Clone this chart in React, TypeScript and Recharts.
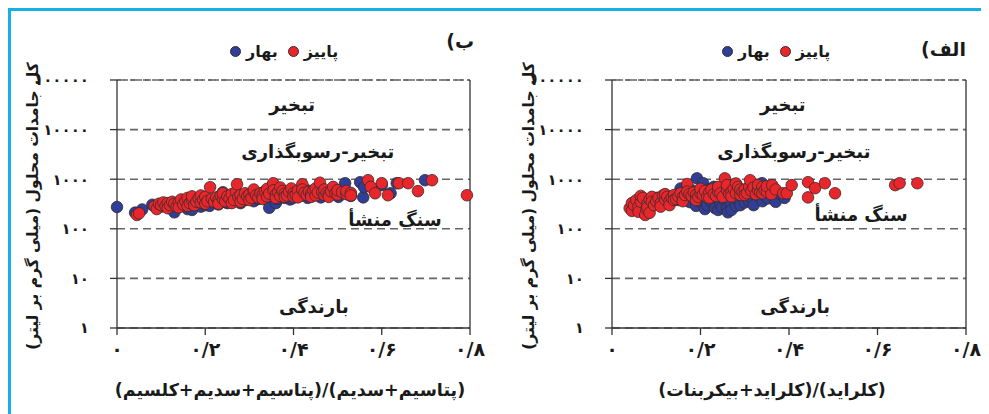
import React from "react";
import {
  ScatterChart,
  Scatter,
  XAxis,
  YAxis,
  CartesianGrid,
  ReferenceLine,
  ReferenceDot,
} from "recharts";

const FONT = '"DejaVu Sans", sans-serif';
const BLUE = "#2f3e97";
const RED = "#e9262b";
const INK = "#1a1a1a";
const GRID = "#666";
const FRAME = "#1aaee6";

const xTicks = [0, 0.2, 0.4, 0.6, 0.8];
const yTicks = [1, 10, 100, 1000, 10000, 100000];

const seriesNames = ["بهار", "پاییز"];
const yTitle = "کل جامدات محلول (میلی گرم بر لیتر)";
const zoneNames = ["تبخیر", "تبخیر-رسوبگذاری", "سنگ منشأ", "بارندگی"];

type Pt = [number, number];

// panel ب : (Na+K)/(Na+K+Ca)
const cationSpring: Pt[] = [
  [0.0, 275], [0.041, 212], [0.057, 245], [0.08, 305], [0.1, 280], [0.12, 262],
  [0.13, 215], [0.15, 290], [0.16, 250], [0.17, 240], [0.18, 330], [0.19, 280],
  [0.2, 300], [0.21, 290], [0.22, 360], [0.23, 310], [0.24, 545], [0.25, 330],
  [0.26, 360], [0.27, 420], [0.28, 330], [0.29, 380], [0.3, 470], [0.31, 360],
  [0.32, 400], [0.33, 520], [0.34, 380], [0.345, 265], [0.35, 450], [0.36, 330],
  [0.365, 400], [0.37, 500], [0.38, 420], [0.39, 560], [0.392, 390], [0.397, 410],
  [0.41, 520], [0.42, 470], [0.43, 600], [0.432, 420], [0.44, 480], [0.45, 530],
  [0.46, 470], [0.462, 430], [0.47, 550], [0.48, 480], [0.49, 520], [0.5, 470],
  [0.502, 440], [0.51, 560], [0.517, 830], [0.525, 490], [0.53, 460], [0.551, 870],
  [0.558, 430], [0.56, 690], [0.6, 760], [0.62, 520], [0.634, 830], [0.698, 955],
];

const cationAutumn: Pt[] = [
  [0.045, 190], [0.05, 205], [0.085, 285], [0.09, 250], [0.095, 320], [0.1, 300],
  [0.105, 340], [0.11, 290], [0.115, 330], [0.115, 260], [0.12, 300], [0.125, 350],
  [0.13, 320], [0.135, 280], [0.14, 340], [0.14, 270], [0.145, 390], [0.15, 310],
  [0.155, 360], [0.16, 420], [0.16, 290], [0.165, 330], [0.17, 380], [0.17, 450],
  [0.175, 300], [0.18, 350], [0.185, 410], [0.19, 340], [0.19, 470], [0.195, 380],
  [0.2, 440], [0.2, 320], [0.205, 360], [0.211, 690], [0.215, 400], [0.22, 350],
  [0.225, 430], [0.23, 380], [0.23, 320], [0.235, 470], [0.24, 400], [0.24, 520],
  [0.245, 360], [0.25, 450], [0.255, 410], [0.26, 500], [0.26, 330], [0.265, 380],
  [0.27, 560], [0.272, 790], [0.275, 440], [0.28, 480], [0.28, 350], [0.285, 400],
  [0.29, 520], [0.295, 450], [0.3, 490], [0.3, 380], [0.305, 420], [0.31, 560],
  [0.31, 620], [0.315, 470], [0.32, 430], [0.325, 520], [0.33, 480], [0.33, 400],
  [0.335, 570], [0.34, 450], [0.34, 640], [0.345, 510], [0.354, 830], [0.355, 600],
  [0.36, 490], [0.36, 420], [0.365, 540], [0.37, 460], [0.37, 680], [0.375, 580],
  [0.38, 510], [0.38, 440], [0.385, 470], [0.39, 560], [0.395, 650], [0.4, 520],
  [0.4, 450], [0.405, 480], [0.41, 590], [0.41, 430], [0.42, 790], [0.42, 620],
  [0.425, 530], [0.43, 480], [0.435, 560], [0.44, 510], [0.44, 440], [0.445, 600],
  [0.45, 470], [0.45, 650], [0.455, 540], [0.46, 850], [0.465, 560], [0.47, 480],
  [0.47, 620], [0.475, 530], [0.48, 500], [0.48, 440], [0.485, 570], [0.49, 700],
  [0.495, 520], [0.5, 490], [0.5, 600], [0.51, 550], [0.52, 500], [0.52, 580],
  [0.53, 530], [0.53, 470], [0.569, 955], [0.575, 700], [0.585, 520], [0.6, 830],
  [0.614, 475], [0.639, 830], [0.66, 830], [0.682, 575], [0.714, 955], [0.793, 475],
];

// panel الف : Cl/(Cl+HCO3)
const anionSpring: Pt[] = [
  [0.1, 420], [0.12, 480], [0.14, 440], [0.15, 380], [0.155, 650], [0.165, 380],
  [0.17, 700], [0.176, 345], [0.18, 600], [0.185, 460], [0.19, 290], [0.192, 1040],
  [0.2, 560], [0.2, 350], [0.206, 830], [0.21, 400], [0.21, 250], [0.215, 300],
  [0.22, 480], [0.22, 620], [0.225, 350], [0.23, 700], [0.233, 260], [0.24, 420],
  [0.24, 240], [0.245, 310], [0.249, 270], [0.25, 600], [0.255, 380], [0.26, 260],
  [0.262, 215], [0.268, 330], [0.27, 240], [0.275, 450], [0.28, 290], [0.28, 800],
  [0.285, 380], [0.29, 520], [0.29, 300], [0.3, 430], [0.3, 340], [0.31, 360],
  [0.316, 410], [0.32, 300], [0.325, 560], [0.33, 470], [0.339, 830], [0.34, 360],
  [0.345, 500], [0.352, 410], [0.355, 700], [0.36, 580], [0.37, 430], [0.37, 350],
  [0.38, 500], [0.39, 420],
];

const anionAutumn: Pt[] = [
  [0.04, 260], [0.045, 330], [0.045, 230], [0.05, 300], [0.055, 380], [0.06, 280],
  [0.06, 220], [0.065, 350], [0.065, 460], [0.07, 420], [0.075, 190], [0.078, 250],
  [0.08, 320], [0.08, 270], [0.085, 390], [0.085, 210], [0.09, 440], [0.09, 350],
  [0.095, 300], [0.1, 360], [0.105, 420], [0.11, 330], [0.11, 280], [0.115, 470],
  [0.12, 390], [0.12, 500], [0.125, 440], [0.13, 360], [0.13, 300], [0.135, 420],
  [0.14, 480], [0.14, 380], [0.145, 400], [0.15, 450], [0.155, 520], [0.16, 430],
  [0.16, 360], [0.165, 480], [0.17, 800], [0.17, 560], [0.175, 500], [0.18, 460],
  [0.185, 540], [0.19, 480], [0.19, 380], [0.195, 440], [0.2, 520], [0.2, 640],
  [0.205, 480], [0.21, 580], [0.215, 440], [0.22, 540], [0.22, 420], [0.225, 620],
  [0.23, 500], [0.235, 460], [0.24, 560], [0.24, 700], [0.245, 520], [0.25, 440],
  [0.255, 1040], [0.26, 600], [0.26, 760], [0.265, 500], [0.27, 560], [0.27, 450],
  [0.275, 640], [0.28, 520], [0.28, 820], [0.285, 700], [0.29, 480], [0.29, 620],
  [0.295, 560], [0.3, 620], [0.3, 480], [0.305, 520], [0.31, 700], [0.312, 955],
  [0.315, 580], [0.32, 680], [0.325, 500], [0.33, 600], [0.33, 760], [0.335, 540],
  [0.34, 700], [0.34, 520], [0.345, 600], [0.35, 560], [0.35, 720], [0.36, 500],
  [0.362, 760], [0.37, 620], [0.387, 520], [0.395, 520], [0.406, 760], [0.443, 430],
  [0.443, 870], [0.459, 660], [0.481, 830], [0.504, 520], [0.64, 760], [0.65, 830],
  [0.69, 830],
];

const toFa = (v: number) =>
  String(v).replace(".", "/").replace(/\d/g, (d) => "۰۱۲۳۴۵۶۷۸۹"[+d]);

const toRows = (pts: Pt[]) => pts.map(([x, y]) => ({ x, y }));

const W = 490;
const H = 406;

const dot = (fill: string) => (p: any) => (
  <circle cx={p.cx} cy={p.cy} r={5.8} fill={fill} stroke="#3b2b2b" strokeWidth={0.8} />
);

interface PanelProps {
  left: number;
  letter: string;
  letterTop: number;
  spring: Pt[];
  autumn: Pt[];
  xTitle: string;
  xTitleX: number;
  yTitleX: number;
  plotLeft: number;
  plotRight: number;
  zones: Pt[];
}

const Panel = (p: PanelProps) => {
  const margin = { top: 72, right: W - p.plotRight, left: p.plotLeft - 70, bottom: H - 320 - 50 };
  return (
    <div style={{ position: "absolute", left: p.left, top: 0, width: W, height: H }}>
      <ScatterChart width={W} height={H} margin={margin}>
        <CartesianGrid vertical={false} stroke={GRID} strokeWidth={1.6} strokeDasharray="8 5" />
        <XAxis
          type="number"
          dataKey="x"
          domain={[0, 0.8]}
          ticks={xTicks}
          tickFormatter={toFa}
          height={50}
          stroke="#333"
          strokeWidth={1.3}
          tickSize={7}
          tickMargin={8}
          tick={{ fill: INK, fontSize: 19, fontWeight: "bold", fontFamily: FONT }}
          label={() => (
            <text
              x={p.xTitleX}
              y={382}
              textAnchor="middle"
              dominantBaseline="central"
              direction="rtl"
              fill={INK}
              fontSize={17.5}
              fontWeight="bold"
              fontFamily={FONT}
            >
              {p.xTitle}
            </text>
          )}
        />
        <YAxis
          type="number"
          dataKey="y"
          scale="log"
          domain={[1, 100000]}
          ticks={yTicks}
          allowDataOverflow
          tickFormatter={toFa}
          width={70}
          stroke="#333"
          strokeWidth={1.3}
          tickSize={7}
          tickMargin={21}
          tick={{ fill: INK, fontSize: 15, fontWeight: "bold", fontFamily: FONT }}
          label={() => (
            <text
              x={p.yTitleX}
              y={198}
              transform={`rotate(-90 ${p.yTitleX} 198)`}
              textAnchor="middle"
              dominantBaseline="central"
              direction="rtl"
              fill={INK}
              fontSize={15.5}
              fontWeight="bold"
              fontFamily={FONT}
            >
              {yTitle}
            </text>
          )}
        />
        <ReferenceLine y={100000} stroke={GRID} strokeWidth={1.4} strokeDasharray="4 3" />
        <ReferenceLine x={0.8} stroke="#333" strokeWidth={1.3} />
        {p.zones.map(([zx, zy], i) => (
          <ReferenceDot
            key={i}
            x={zx}
            y={zy}
            r={0}
            fill="none"
            stroke="none"
            label={{
              value: zoneNames[i],
              position: "center",
              fill: INK,
              fontSize: 18,
              fontWeight: "bold",
              fontFamily: FONT,
            }}
          />
        ))}
        <Scatter name={seriesNames[0]} data={toRows(p.spring)} fill={BLUE} shape={dot(BLUE)} isAnimationActive={false} />
        <Scatter name={seriesNames[1]} data={toRows(p.autumn)} fill={RED} shape={dot(RED)} isAnimationActive={false} />
      </ScatterChart>

      <div
        style={{
          position: "absolute",
          left: 222,
          top: 34,
          display: "flex",
          alignItems: "center",
          fontFamily: FONT,
          fontWeight: "bold",
          fontSize: 16,
          color: INK,
        }}
      >
        {[BLUE, RED].map((c, i) => (
          <React.Fragment key={c}>
            <span
              style={{
                width: 11,
                height: 11,
                borderRadius: "50%",
                background: c,
                border: "0.8px solid #3b2b2b",
                marginRight: 5,
                boxSizing: "border-box",
              }}
            />
            <span style={{ marginRight: 10 }}>{seriesNames[i]}</span>
          </React.Fragment>
        ))}
      </div>

      <div
        dir="rtl"
        style={{
          position: "absolute",
          right: 24,
          top: p.letterTop,
          fontFamily: FONT,
          fontWeight: "bold",
          fontSize: 19,
          color: INK,
        }}
      >
        {p.letter}
      </div>
    </div>
  );
};

export default function App() {
  return (
    <div style={{ position: "relative", width: 981, height: H, background: "#fff" }}>
      <div style={{ position: "absolute", left: 0, top: 0, width: 981, height: 3, background: FRAME }} />
      <div style={{ position: "absolute", left: 0, top: 0, width: 3, height: H, background: FRAME }} />
      <Panel
        left={0}
        letter="ب)"
        letterTop={22}
        spring={cationSpring}
        autumn={cationAutumn}
        xTitle="(پتاسیم+سدیم)/(پتاسیم+سدیم+کلسیم)"
        xTitleX={282}
        yTitleX={25}
        plotLeft={109}
        plotRight={462}
        zones={[
          [0.397, 31300],
          [0.455, 3530],
          [0.63, 150],
          [0.446, 2.65],
        ]}
      />
      <Panel
        left={492}
        letter="الف)"
        letterTop={30}
        spring={anionSpring}
        autumn={anionAutumn}
        xTitle="(کلراید)/(کلراید+بیکربنات)"
        xTitleX={272}
        yTitleX={29}
        plotLeft={112}
        plotRight={466}
        zones={[
          [0.386, 31300],
          [0.411, 3530],
          [0.563, 190],
          [0.414, 2.65],
        ]}
      />
    </div>
  );
}
